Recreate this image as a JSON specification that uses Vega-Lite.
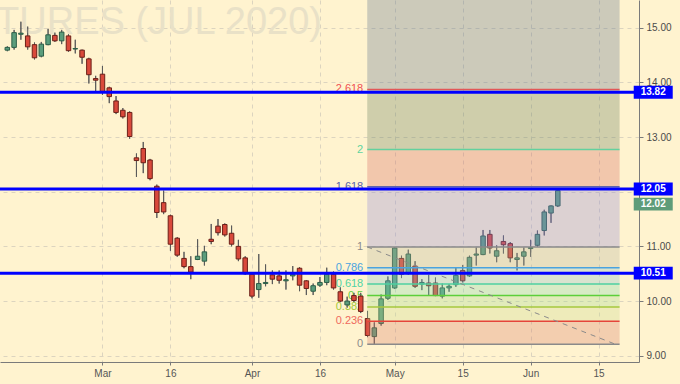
{
  "$schema": "https://vega.github.io/schema/vega-lite/v6.json",
  "width": 639,
  "height": 362,
  "autosize": {"type": "none"},
  "padding": {"left": 0, "top": 0, "right": 41, "bottom": 22},
  "background": "#fff3cf",
  "view": {"stroke": null, "fill": "#fff3cf"},
  "config": {"font": "Liberation Sans"},
  "datasets": {
    "candles": [
      {"i": -14, "o": 14.59, "h": 14.66, "l": 14.57, "c": 14.64},
      {"i": -13, "o": 14.64, "h": 14.96, "l": 14.60, "c": 14.91},
      {"i": -12, "o": 14.88, "h": 15.11, "l": 14.78, "c": 14.90},
      {"i": -11, "o": 14.85, "h": 15.02, "l": 14.60, "c": 14.65},
      {"i": -10, "o": 14.69, "h": 14.73, "l": 14.42, "c": 14.45},
      {"i": -9, "o": 14.48, "h": 14.74, "l": 14.46, "c": 14.70},
      {"i": -8, "o": 14.69, "h": 14.98, "l": 14.68, "c": 14.87},
      {"i": -7, "o": 14.86, "h": 14.91, "l": 14.74, "c": 14.76},
      {"i": -6, "o": 14.76, "h": 14.96, "l": 14.70, "c": 14.92},
      {"i": -5, "o": 14.85, "h": 14.88, "l": 14.56, "c": 14.58},
      {"i": -4, "o": 14.61, "h": 14.78, "l": 14.53, "c": 14.62},
      {"i": -3, "o": 14.59, "h": 14.60, "l": 14.34, "c": 14.46},
      {"i": -2, "o": 14.43, "h": 14.45, "l": 13.98, "c": 14.14},
      {"i": -1, "o": 14.07, "h": 14.12, "l": 13.84, "c": 14.04},
      {"i": 0, "o": 14.15, "h": 14.30, "l": 13.77, "c": 13.83},
      {"i": 1, "o": 13.90, "h": 13.92, "l": 13.62, "c": 13.74},
      {"i": 2, "o": 13.66, "h": 13.75, "l": 13.42, "c": 13.45},
      {"i": 3, "o": 13.49, "h": 13.53, "l": 13.34, "c": 13.37},
      {"i": 4, "o": 13.45, "h": 13.47, "l": 12.97, "c": 13.01},
      {"i": 5, "o": 12.62, "h": 12.70, "l": 12.27, "c": 12.57},
      {"i": 6, "o": 12.79, "h": 12.91, "l": 12.34, "c": 12.53},
      {"i": 7, "o": 12.58, "h": 12.60, "l": 12.21, "c": 12.24},
      {"i": 8, "o": 12.10, "h": 12.13, "l": 11.52, "c": 11.62},
      {"i": 9, "o": 11.80, "h": 12.02, "l": 11.59, "c": 11.63},
      {"i": 10, "o": 11.56, "h": 11.58, "l": 10.92, "c": 11.04},
      {"i": 11, "o": 11.15, "h": 11.17, "l": 10.81, "c": 10.84},
      {"i": 12, "o": 10.78, "h": 10.90, "l": 10.60, "c": 10.63},
      {"i": 13, "o": 10.63, "h": 10.82, "l": 10.40, "c": 10.53},
      {"i": 14, "o": 10.76, "h": 11.13, "l": 10.75, "c": 10.82},
      {"i": 15, "o": 10.73, "h": 11.01, "l": 10.65, "c": 10.90},
      {"i": 16, "o": 11.13, "h": 11.41, "l": 11.04, "c": 11.09},
      {"i": 17, "o": 11.37, "h": 11.50, "l": 11.20, "c": 11.25},
      {"i": 18, "o": 11.40, "h": 11.42, "l": 11.18, "c": 11.21},
      {"i": 19, "o": 11.24, "h": 11.38, "l": 11.00, "c": 11.04},
      {"i": 20, "o": 11.00, "h": 11.12, "l": 10.73, "c": 10.77},
      {"i": 21, "o": 10.79, "h": 10.82, "l": 10.48, "c": 10.50},
      {"i": 22, "o": 10.49, "h": 10.51, "l": 10.05, "c": 10.09},
      {"i": 23, "o": 10.21, "h": 10.86, "l": 10.06, "c": 10.32},
      {"i": 24, "o": 10.32, "h": 10.67, "l": 10.27, "c": 10.34},
      {"i": 25, "o": 10.48, "h": 10.56, "l": 10.31, "c": 10.40},
      {"i": 26, "o": 10.46, "h": 10.56, "l": 10.32, "c": 10.38},
      {"i": 27, "o": 10.37, "h": 10.56, "l": 10.21, "c": 10.39},
      {"i": 28, "o": 10.46, "h": 10.64, "l": 10.38, "c": 10.49},
      {"i": 29, "o": 10.60, "h": 10.62, "l": 10.18, "c": 10.29},
      {"i": 30, "o": 10.37, "h": 10.38, "l": 10.11, "c": 10.23},
      {"i": 31, "o": 10.18, "h": 10.32, "l": 10.11, "c": 10.28},
      {"i": 32, "o": 10.29, "h": 10.44, "l": 10.26, "c": 10.34},
      {"i": 33, "o": 10.34, "h": 10.61, "l": 10.29, "c": 10.49},
      {"i": 34, "o": 10.49, "h": 10.54, "l": 10.21, "c": 10.24},
      {"i": 35, "o": 10.17, "h": 10.25, "l": 9.98, "c": 10.00},
      {"i": 36, "o": 9.93, "h": 10.08, "l": 9.88, "c": 10.00},
      {"i": 37, "o": 10.10, "h": 10.15, "l": 9.98, "c": 10.01},
      {"i": 38, "o": 10.09, "h": 10.15, "l": 9.78, "c": 9.81},
      {"i": 39, "o": 9.68, "h": 9.82, "l": 9.34, "c": 9.37},
      {"i": 40, "o": 9.35, "h": 9.61, "l": 9.21, "c": 9.51},
      {"i": 41, "o": 9.59, "h": 10.12, "l": 9.55, "c": 10.04},
      {"i": 42, "o": 10.05, "h": 10.45, "l": 10.02, "c": 10.37},
      {"i": 43, "o": 10.24, "h": 10.98, "l": 10.22, "c": 10.97},
      {"i": 44, "o": 10.78, "h": 10.83, "l": 10.42, "c": 10.49},
      {"i": 45, "o": 10.50, "h": 10.94, "l": 10.48, "c": 10.86},
      {"i": 46, "o": 10.64, "h": 10.73, "l": 10.24, "c": 10.27},
      {"i": 47, "o": 10.31, "h": 10.40, "l": 10.20, "c": 10.34},
      {"i": 48, "o": 10.33, "h": 10.48, "l": 10.10, "c": 10.28},
      {"i": 49, "o": 10.33, "h": 10.43, "l": 10.09, "c": 10.10},
      {"i": 50, "o": 10.09, "h": 10.32, "l": 10.05, "c": 10.24},
      {"i": 51, "o": 10.24, "h": 10.31, "l": 10.17, "c": 10.27},
      {"i": 52, "o": 10.30, "h": 10.62, "l": 10.26, "c": 10.47},
      {"i": 53, "o": 10.56, "h": 10.66, "l": 10.34, "c": 10.37},
      {"i": 54, "o": 10.46, "h": 10.83, "l": 10.44, "c": 10.80},
      {"i": 55, "o": 10.84, "h": 10.98, "l": 10.65, "c": 10.86},
      {"i": 56, "o": 10.85, "h": 11.30, "l": 10.84, "c": 11.19},
      {"i": 57, "o": 11.22, "h": 11.30, "l": 10.87, "c": 10.97},
      {"i": 58, "o": 10.82, "h": 11.02, "l": 10.71, "c": 10.92},
      {"i": 59, "o": 11.09, "h": 11.20, "l": 10.87, "c": 11.03},
      {"i": 60, "o": 11.05, "h": 11.08, "l": 10.71, "c": 10.79},
      {"i": 61, "o": 10.76, "h": 10.88, "l": 10.56, "c": 10.79},
      {"i": 62, "o": 10.82, "h": 10.98, "l": 10.65, "c": 10.90},
      {"i": 63, "o": 10.96, "h": 11.12, "l": 10.81, "c": 10.98},
      {"i": 64, "o": 11.02, "h": 11.29, "l": 10.99, "c": 11.22},
      {"i": 65, "o": 11.29, "h": 11.67, "l": 11.20, "c": 11.63},
      {"i": 66, "o": 11.61, "h": 11.75, "l": 11.43, "c": 11.74},
      {"i": 67, "o": 11.74, "h": 12.05, "l": 11.72, "c": 12.02}
    ],
    "fibBands": [
      {"b": "0", "lo": 9.21, "hi": 9.63},
      {"b": "0.236", "lo": 9.63, "hi": 9.89},
      {"b": "0.382", "lo": 9.89, "hi": 10.10},
      {"b": "0.5", "lo": 10.10, "hi": 10.31},
      {"b": "0.618", "lo": 10.31, "hi": 10.61},
      {"b": "0.786", "lo": 10.61, "hi": 10.99},
      {"b": "1", "lo": 10.99, "hi": 12.09},
      {"b": "1.618", "lo": 12.09, "hi": 12.77},
      {"b": "2", "lo": 12.77, "hi": 13.87},
      {"b": "2.618", "lo": 13.87, "hi": 15.65}
    ],
    "fibLines": [
      {"lv": "0", "v": 9.21},
      {"lv": "0.236", "v": 9.63},
      {"lv": "0.382", "v": 9.89},
      {"lv": "0.5", "v": 10.10},
      {"lv": "0.618", "v": 10.31},
      {"lv": "0.786", "v": 10.61},
      {"lv": "1", "v": 10.99},
      {"lv": "1.618", "v": 12.09},
      {"lv": "2", "v": 12.77},
      {"lv": "2.618", "v": 13.87}
    ],
    "trend": [
      {"t": 38.96, "v": 10.99},
      {"t": 75.47, "v": 9.21}
    ],
    "levels": [
      {"p": 13.82},
      {"p": 12.05},
      {"p": 10.51}
    ],
    "last": [{"p": 12.02}],
    "watermark": [{"title": "FUTURES (JUL 2020)"}]
  },
  "resolve": {"scale": {"color": "independent", "fill": "independent", "stroke": "independent"}},
  "layer": [
    {
      "data": {"name": "candles"},
      "mark": {"type": "rule", "color": "#5a5a5a", "strokeWidth": 1},
      "encoding": {
        "x": {
          "field": "i", "type": "quantitative",
          "scale": {"domain": [-14.34, 78.21], "nice": false, "zero": false},
          "axis": {
            "title": null, "orient": "bottom",
            "values": [0, 10, 22, 32, 43, 53, 63, 73],
            "labelExpr": "datum.value==0?'Mar':datum.value==22?'Apr':datum.value==43?'May':datum.value==63?'Jun':(datum.value==10||datum.value==32)?'16':'15'",
            "grid": true, "gridColor": "#dcd4bf", "gridDash": [4, 4], "gridWidth": 1,
            "domainColor": "#7a7a7a", "tickColor": "#7a7a7a", "tickSize": 3,
            "labelColor": "#555555", "labelFontSize": 10, "labelFont": "Liberation Sans",
            "labelPadding": 3, "labelFlush": false, "labelOverlap": false
          }
        },
        "y": {
          "field": "l", "type": "quantitative",
          "scale": {"domain": [8.885, 15.507], "nice": false, "zero": false},
          "axis": {
            "title": null, "orient": "right",
            "values": [9, 9.5, 10, 10.5, 11, 11.5, 12, 12.5, 13, 13.5, 14, 14.5, 15, 15.5],
            "format": ".2f",
            "grid": true, "gridColor": "#dcd4bf", "gridDash": [4, 4], "gridWidth": 1,
            "domainColor": "#7a7a7a", "tickColor": "#7a7a7a", "tickSize": 4,
            "labelColor": "#4a4a4a", "labelFontSize": 10, "labelFont": "Liberation Sans",
            "labelPadding": 3, "labelBaseline": "middle", "labelFlush": false, "labelOverlap": false
          }
        },
        "y2": {"field": "h"}
      }
    },
    {
      "data": {"name": "watermark"},
      "mark": {"type": "text", "clip": true, "align": "right", "baseline": "alphabetic", "fontSize": 38, "font": "Liberation Sans", "color": "#e9e1c7"},
      "encoding": {
        "x": {"datum": 32.3, "type": "quantitative", "title": null},
        "y": {"datum": 14.894, "type": "quantitative", "title": null},
        "text": {"field": "title"}
      }
    },
    {
      "data": {"name": "fibLines"},
      "mark": {"type": "text", "align": "right", "baseline": "middle", "dx": -4, "fontSize": 11, "font": "Liberation Sans"},
      "encoding": {
        "x": {"datum": 38.96, "type": "quantitative", "title": null},
        "y": {"field": "v", "type": "quantitative", "title": null},
        "text": {"field": "lv"},
        "color": {
          "field": "lv", "type": "nominal", "legend": null,
          "scale": {
            "domain": ["0", "0.236", "0.382", "0.5", "0.618", "0.786", "1", "1.618", "2", "2.618"],
            "range": ["#8a8a8a", "#ef6a5e", "#a3c93a", "#64cf3e", "#52d3a2", "#4aa3df", "#8a8a8a", "#5a64aa", "#5fd3a0", "#ef5252"]
          }
        }
      }
    },
    {
      "data": {"name": "candles"},
      "mark": {"type": "rule", "color": "#5a5a5a", "strokeWidth": 1},
      "encoding": {
        "x": {"field": "i", "type": "quantitative", "title": null},
        "y": {"field": "l", "type": "quantitative", "title": null},
        "y2": {"field": "h"}
      }
    },
    {
      "data": {"name": "candles"},
      "mark": {"type": "bar", "size": 4.5, "strokeWidth": 1},
      "encoding": {
        "x": {"field": "i", "type": "quantitative", "title": null},
        "y": {"field": "o", "type": "quantitative", "title": null},
        "y2": {"field": "c"},
        "fill": {"condition": {"test": "datum.c >= datum.o", "value": "#5b9d7c"}, "value": "#d9493b"},
        "stroke": {"condition": {"test": "datum.c >= datum.o", "value": "#2d5e48"}, "value": "#6b2019"}
      }
    },
    {
      "data": {"name": "fibBands"},
      "mark": {"type": "rect", "clip": true, "opacity": 0.3},
      "encoding": {
        "x": {"datum": 38.96, "type": "quantitative", "title": null},
        "x2": {"datum": 76.09},
        "y": {"field": "lo", "type": "quantitative", "title": null},
        "y2": {"field": "hi"},
        "fill": {
          "field": "b", "type": "nominal", "legend": null,
          "scale": {
            "domain": ["0", "0.236", "0.382", "0.5", "0.618", "0.786", "1", "1.618", "2", "2.618"],
            "range": ["#d77b67", "#c6dc8c", "#9bdc8c", "#7adcb1", "#7dc1d2", "#b2b49d", "#8a85d9", "#d4645e", "#5f7b5a", "#556e8c"]
          }
        }
      }
    },
    {
      "data": {"name": "fibLines"},
      "mark": {"type": "rule", "strokeWidth": 1.5},
      "encoding": {
        "x": {"datum": 38.96, "type": "quantitative", "title": null},
        "x2": {"datum": 76.09},
        "y": {"field": "v", "type": "quantitative", "title": null},
        "stroke": {
          "field": "lv", "type": "nominal", "legend": null,
          "scale": {
            "domain": ["0", "0.236", "0.382", "0.5", "0.618", "0.786", "1", "1.618", "2", "2.618"],
            "range": ["#8a8a8a", "#e5443a", "#a6c93e", "#5ccf3a", "#4ed1a0", "#4aa3df", "#8a8a8a", "#5b64b0", "#62d19e", "#e25757"]
          }
        }
      }
    },
    {
      "data": {"name": "trend"},
      "mark": {"type": "line", "color": "#8a8a8a", "strokeWidth": 1, "strokeDash": [5, 5]},
      "encoding": {
        "x": {"field": "t", "type": "quantitative", "title": null},
        "y": {"field": "v", "type": "quantitative", "title": null}
      }
    },
    {
      "data": {"name": "levels"},
      "mark": {"type": "rule", "color": "#0000ff", "strokeWidth": 3},
      "encoding": {
        "y": {"field": "p", "type": "quantitative", "title": null}
      }
    },
    {
      "data": {"name": "levels"},
      "mark": {"type": "point", "shape": "M-1,-0.33H1V0.33H-1Z", "filled": true, "opacity": 1, "size": 1521, "color": "#0000ff", "strokeWidth": 0, "clip": false},
      "encoding": {
        "x": {"datum": 81.04, "type": "quantitative", "title": null},
        "y": {"field": "p", "type": "quantitative", "title": null}
      }
    },
    {
      "data": {"name": "levels"},
      "mark": {"type": "text", "color": "#ffffff", "fontWeight": "bold", "fontSize": 10, "font": "Liberation Sans", "align": "center", "baseline": "middle", "clip": false},
      "encoding": {
        "x": {"datum": 81.04, "type": "quantitative", "title": null},
        "y": {"field": "p", "type": "quantitative", "title": null},
        "text": {"field": "p", "type": "quantitative", "format": ".2f"}
      }
    },
    {
      "data": {"name": "last"},
      "mark": {"type": "point", "shape": "M-1,-0.33H1V0.33H-1Z", "filled": true, "opacity": 1, "size": 1521, "color": "#5e9c79", "strokeWidth": 0, "clip": false, "yOffset": 13.5},
      "encoding": {
        "x": {"datum": 81.04, "type": "quantitative", "title": null},
        "y": {"field": "p", "type": "quantitative", "title": null}
      }
    },
    {
      "data": {"name": "last"},
      "mark": {"type": "text", "color": "#ffffff", "fontWeight": "bold", "fontSize": 10, "font": "Liberation Sans", "align": "center", "baseline": "middle", "clip": false, "yOffset": 13.5},
      "encoding": {
        "x": {"datum": 81.04, "type": "quantitative", "title": null},
        "y": {"field": "p", "type": "quantitative", "title": null},
        "text": {"field": "p", "type": "quantitative", "format": ".2f"}
      }
    }
  ]
}
